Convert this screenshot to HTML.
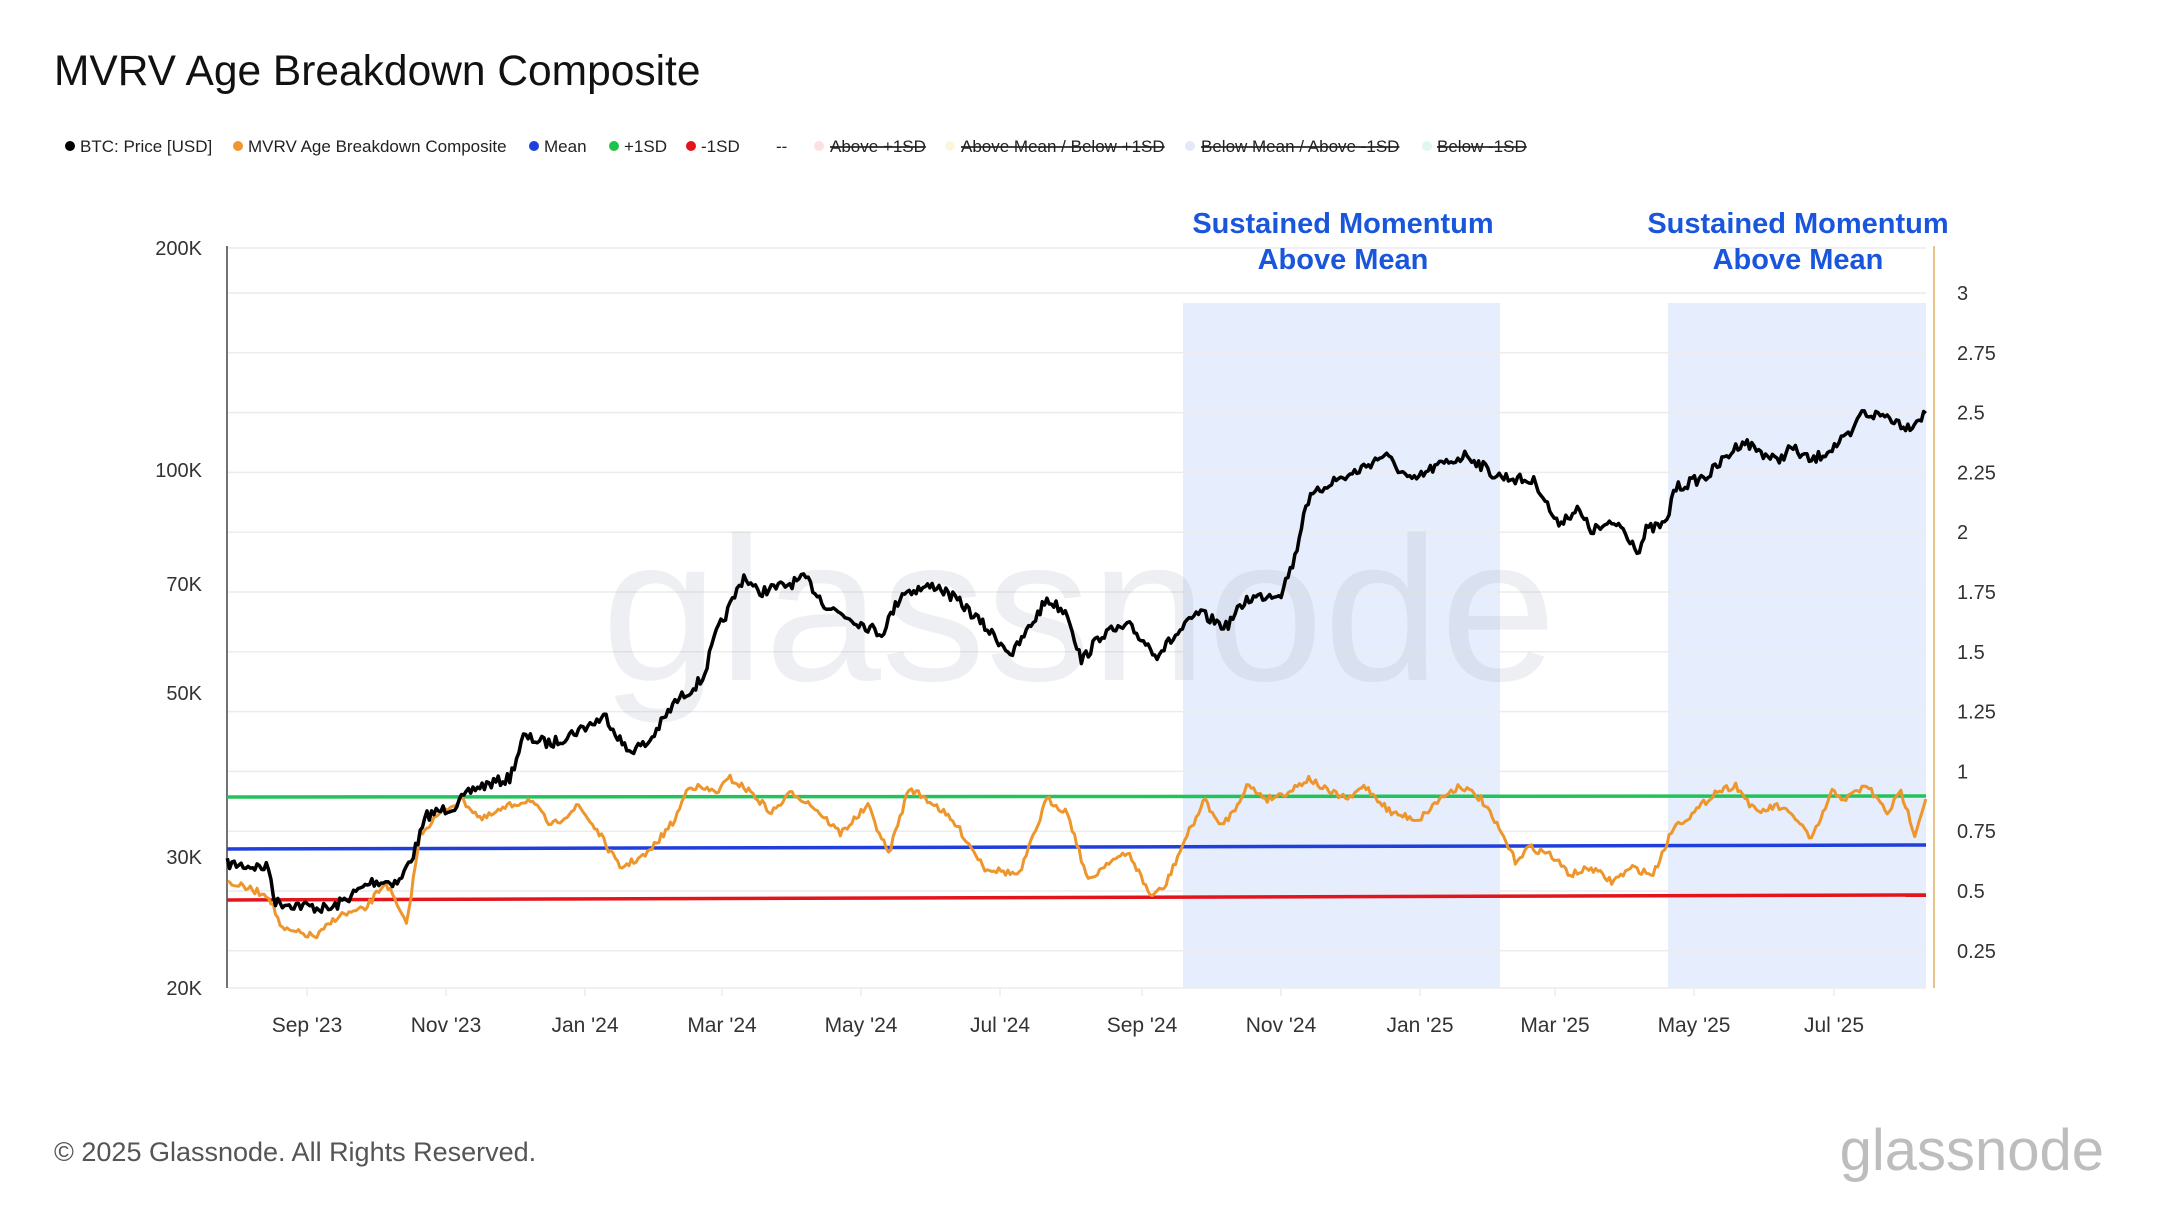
<!DOCTYPE html>
<html><head><meta charset="utf-8"><style>
html,body{margin:0;padding:0;background:#fff;}
svg{display:block;font-family:"Liberation Sans",Arial,sans-serif;}
</style></head><body>
<svg id="c" width="2160" height="1215" viewBox="0 0 2160 1215" xmlns="http://www.w3.org/2000/svg">
<rect width="2160" height="1215" fill="#fff"/>
<text x="54" y="85" font-size="42.5" fill="#111">MVRV Age Breakdown Composite</text>
<g font-size="17" fill="#222">
<circle cx="70" cy="146" r="5" fill="#000"/><text x="80" y="152">BTC: Price [USD]</text>
<circle cx="238" cy="146" r="5" fill="#f0962e"/><text x="248" y="152">MVRV Age Breakdown Composite</text>
<circle cx="534" cy="146" r="5" fill="#1e3fdc"/><text x="544" y="152">Mean</text>
<circle cx="614" cy="146" r="5" fill="#1fc24a"/><text x="624" y="152">+1SD</text>
<circle cx="691" cy="146" r="5" fill="#e3141c"/><text x="701" y="152">-1SD</text>
<text x="776" y="152">--</text>
<circle cx="819" cy="146" r="5" fill="#fde0e4"/><text x="830" y="152" text-decoration="line-through">Above +1SD</text>
<circle cx="950" cy="146" r="5" fill="#fdf6dc"/><text x="961" y="152" text-decoration="line-through">Above Mean / Below +1SD</text>
<circle cx="1190" cy="146" r="5" fill="#e4e8fb"/><text x="1201" y="152" text-decoration="line-through">Below Mean / Above -1SD</text>
<circle cx="1427" cy="146" r="5" fill="#e0f7ee"/><text x="1437" y="152" text-decoration="line-through">Below -1SD</text>
</g>
<rect x="1183" y="303" width="317" height="685" fill="#e6edfc"/>
<rect x="1668" y="303" width="258" height="685" fill="#e6edfc"/>
<g id="grid" stroke="#ececec" stroke-width="1.5"></g>
<text x="1079" y="680" font-size="205" fill="#9aa0b4" fill-opacity="0.17" text-anchor="middle" textLength="955" lengthAdjust="spacingAndGlyphs">glassnode</text>
<g font-size="29" font-weight="bold" fill="#1a56db" text-anchor="middle">
<text x="1343" y="233">Sustained Momentum</text><text x="1343" y="269">Above Mean</text>
<text x="1798" y="233">Sustained Momentum</text><text x="1798" y="269">Above Mean</text>
</g>
<line x1="227" y1="246" x2="227" y2="988" stroke="#444" stroke-width="1.5"/>
<line x1="1934" y1="246" x2="1934" y2="988" stroke="#e8c48c" stroke-width="2"/>
<g font-size="20" fill="#333" text-anchor="end">
<text x="202" y="255">200K</text><text x="202" y="477">100K</text><text x="202" y="591">70K</text>
<text x="202" y="700">50K</text><text x="202" y="864">30K</text><text x="202" y="995">20K</text>
</g>
<g id="rl" font-size="20" fill="#333"></g>
<g id="xl" font-size="21" fill="#333" text-anchor="middle"></g>
<path id="green" fill="none" stroke="#22c35a" stroke-width="3.5" d="M227 797 L1926 796"/>
<path id="blue" fill="none" stroke="#1e3fdc" stroke-width="3.5" d="M227 849 L1926 845"/>
<path id="red" fill="none" stroke="#e3141c" stroke-width="3.5" d="M227 900 L1926 895"/>
<path id="mvrv" fill="none" stroke="#ee962c" stroke-width="3" stroke-linejoin="round"/>
<path id="price" fill="none" stroke="#000" stroke-width="3.5" stroke-linejoin="round"/>
<text x="54" y="1161" font-size="27" fill="#555">© 2025 Glassnode. All Rights Reserved.</text>
<text x="2104" y="1170" font-size="58" fill="#bdbdbd" text-anchor="end">glassnode</text>
</svg>
<script>
var NS="http://www.w3.org/2000/svg",s=2160/1568;
function el(p,t,a,txt){var e=document.createElementNS(NS,t);for(var k in a)e.setAttribute(k,a[k]);if(txt)e.textContent=txt;document.getElementById(p).appendChild(e);}
var rv=["3","2.75","2.5","2.25","2","1.75","1.5","1.25","1","0.75","0.5","0.25"];
for(var i=0;i<12;i++){var y=293+i*59.8;el("rl","text",{x:1957,y:y+7},rv[i]);el("grid","line",{x1:228,x2:1926,y1:y,y2:y});}
el("grid","line",{x1:228,x2:1926,y1:248,y2:248});el("grid","line",{x1:228,x2:1926,y1:988,y2:988});
var xl=[[307,"Sep '23"],[446,"Nov '23"],[585,"Jan '24"],[722,"Mar '24"],[861,"May '24"],[1000,"Jul '24"],[1142,"Sep '24"],[1281,"Nov '24"],[1420,"Jan '25"],[1555,"Mar '25"],[1694,"May '25"],[1834,"Jul '25"]];
xl.forEach(function(d){el("xl","text",{x:d[0],y:1032},d[1]);el("grid","line",{x1:d[0],x2:d[0],y1:988,y2:996});});
var seed=7;function rnd(){seed=(seed*16807)%2147483647;return seed/2147483647-0.5;}
function build(id,k,amp){var pts=k.map(function(p){return[p[0]*s,p[1]*s]});var d="",first=true;
for(var j=0;j<pts.length-1;j++){var a=pts[j],b=pts[j+1];var n=Math.max(1,Math.round((b[0]-a[0])/2.3));
for(var t=0;t<n;t++){var f=t/n;var x=a[0]+(b[0]-a[0])*f,y=a[1]+(b[1]-a[1])*f+rnd()*amp;d+=(first?"M":"L")+x.toFixed(1)+" "+y.toFixed(1);first=false;}}
var l=pts[pts.length-1];d+="L"+l[0].toFixed(1)+" "+l[1].toFixed(1);document.getElementById(id).setAttribute("d",d);}
build("price",[[165,627],[195,630],[200,655],[240,660],[255,650],[270,640],[290,640],[300,620],[310,592],[330,585],[345,572],[370,565],[380,535],[400,540],[420,530],[440,520],[455,545],[470,540],[490,510],[510,493],[520,460],[530,440],[540,418],[550,430],[570,425],[585,420],[600,440],[620,450],[640,460],[655,430],[680,425],[700,440],[720,460],[735,475],[760,435],[775,445],[785,480],[800,460],[820,455],[840,475],[855,460],[870,445],[890,455],[905,435],[930,430],[940,405],[948,365],[965,350],[980,345],[1005,330],[1025,350],[1040,340],[1065,330],[1085,345],[1115,350],[1130,380],[1145,370],[1155,385],[1175,380],[1190,400],[1195,385],[1210,380],[1215,355],[1240,345],[1265,320],[1290,335],[1300,325],[1315,335],[1345,315],[1350,300],[1370,302],[1385,310],[1398,300]],11);
build("mvrv",[[165,640],[195,650],[205,675],[230,680],[245,665],[265,660],[280,640],[295,672],[305,605],[320,590],[335,580],[350,595],[370,585],[385,580],[400,600],[420,585],[435,605],[450,630],[470,620],[490,595],[500,570],[520,575],[530,565],[545,575],[560,590],[575,575],[590,585],[610,605],[630,585],[645,620],[660,572],[680,585],[695,600],[715,630],[740,635],[760,580],[775,590],[790,640],[805,625],[820,620],[835,650],[845,645],[860,610],[875,580],[885,600],[895,590],[905,570],[920,580],[935,575],[950,565],[965,575],[980,580],[990,570],[1010,590],[1030,595],[1045,580],[1060,570],[1075,580],[1090,605],[1100,625],[1110,615],[1125,620],[1140,635],[1155,630],[1170,640],[1185,630],[1200,635],[1215,600],[1230,590],[1245,575],[1260,570],[1275,590],[1290,585],[1305,595],[1315,610],[1330,575],[1340,580],[1355,570],[1370,590],[1380,575],[1390,605],[1398,580]],7);
</script>
</body></html>
